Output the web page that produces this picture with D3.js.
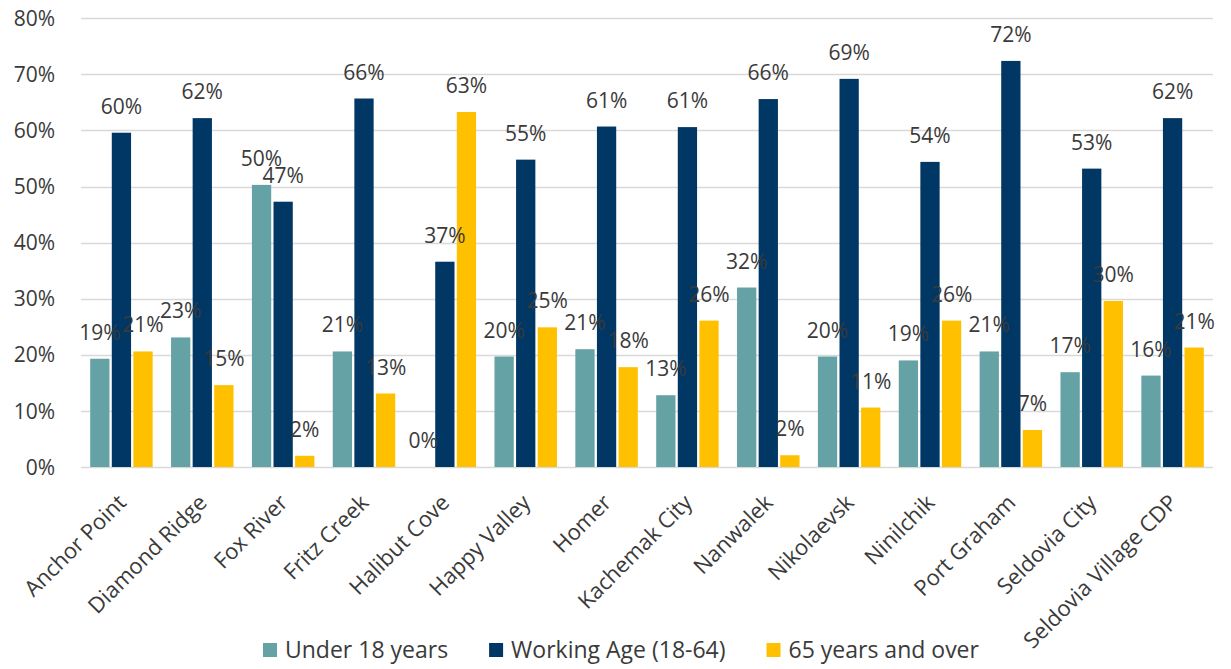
<!DOCTYPE html>
<html>
<head>
<meta charset="utf-8">
<script src="https://cdn.jsdelivr.net/npm/d3@7"></script>
<style>
  html, body { margin: 0; padding: 0; background: #ffffff; }
  svg { display: block; font-family: "Open Sans", sans-serif; }
</style>
</head>
<body>
<svg id="chart" width="1231" height="669"></svg>
<script>
// ---- data ----
const categories = ["Anchor Point", "Diamond Ridge", "Fox River", "Fritz Creek", "Halibut Cove",
  "Happy Valley", "Homer", "Kachemak City", "Nanwalek", "Nikolaevsk", "Ninilchik",
  "Port Graham", "Seldovia City", "Seldovia Village CDP"];
const seriesNames = ["Under 18 years", "Working Age (18-64)", "65 years and over"];
const under18 = [19.3, 23.1, 50.3, 20.6, 0, 19.7, 21.0, 12.8, 32.0, 19.7, 19.0, 20.6, 16.9, 16.3];
const workingAge = [59.6, 62.2, 47.3, 65.7, 36.6, 54.8, 60.7, 60.6, 65.6, 69.2, 54.4, 72.4, 53.2, 62.2];
const over65 = [20.6, 14.6, 2.0, 13.1, 63.3, 24.9, 17.8, 26.1, 2.1, 10.6, 26.1, 6.6, 29.6, 21.3];
const yTicks = [0, 10, 20, 30, 40, 50, 60, 70, 80];
const colors = ["#64A2A5", "#003764", "#FFC000"];

const seriesValues = [under18, workingAge, over65];

// ---- layout ----
const svg = d3.select("#chart");
const plotLeft = 81, plotRight = 1213, plotTop = 18.3, plotBottom = 467;
const textColor = "#3a3a3a";

const x = d3.scaleBand().domain(categories).range([plotLeft, plotRight])
  .paddingInner(0.2275).paddingOuter(0.11375);
const xs = d3.scaleBand().domain(seriesNames).range([0, x.bandwidth()]).paddingInner(0.107);
const y = d3.scaleLinear().domain([0, 80]).range([plotBottom, plotTop]);

// gridlines
svg.append("g").selectAll("line").data(yTicks).join("line")
  .attr("x1", plotLeft).attr("x2", plotRight)
  .attr("y1", d => Math.round(y(d)) + 0.5).attr("y2", d => Math.round(y(d)) + 0.5)
  .attr("stroke", "#d9d9d9").attr("stroke-width", 1.3);

// y axis
const yAxis = d3.axisLeft(y).tickValues(yTicks).tickFormat(d => d + "%").tickSize(0).tickPadding(0);
const gy = svg.append("g").attr("transform", `translate(55,0)`).call(yAxis);
gy.select(".domain").remove();
gy.selectAll("text").attr("fill", textColor).style("font-size", "21px")
  .style("font-family", "'Open Sans', sans-serif").attr("dy", "0.34em");

// bars
const rows = [];
categories.forEach((c, i) => {
  seriesNames.forEach((s, j) => rows.push({ cat: c, ser: s, j, v: seriesValues[j][i] }));
});

svg.append("g").selectAll("rect").data(rows).join("rect")
  .attr("x", d => x(d.cat) + xs(d.ser))
  .attr("width", xs.bandwidth())
  .attr("y", d => y(d.v))
  .attr("height", d => plotBottom - y(d.v))
  .attr("fill", d => colors[d.j]);

// data labels
svg.append("g").selectAll("text").data(rows).join("text")
  .attr("x", d => x(d.cat) + xs(d.ser) + xs.bandwidth() / 2)
  .attr("y", d => y(d.v) - 19)
  .attr("text-anchor", "middle")
  .attr("fill", textColor)
  .style("font-size", "21px")
  .text(d => Math.round(d.v) + "%");

// x axis labels
const xAxis = d3.axisBottom(x).tickSize(0).tickPadding(0);
const gx = svg.append("g").call(xAxis);
gx.select(".domain").remove();
gx.selectAll(".tick").attr("transform", null);
gx.selectAll(".tick text")
  .attr("x", null).attr("y", null).attr("dy", null)
  .attr("text-anchor", "end")
  .attr("fill", textColor)
  .style("font-size", "22px")
  .style("font-family", "'Open Sans', sans-serif")
  .attr("transform", d => `translate(${x(d) + x.bandwidth() / 2 + 6},504) rotate(-45)`);

// legend
const legend = svg.append("g");
let lx = 263;
seriesNames.forEach((s, j) => {
  legend.append("rect").attr("x", lx).attr("y", 643).attr("width", 14).attr("height", 14).attr("fill", colors[j]);
  const t = legend.append("text").attr("x", lx + 22).attr("y", 658)
    .attr("fill", textColor).style("font-size", "23px").text(s);
  const w = t.node().getComputedTextLength();
  lx = lx + 22 + w + 41;
});
</script>
</body>
</html>
